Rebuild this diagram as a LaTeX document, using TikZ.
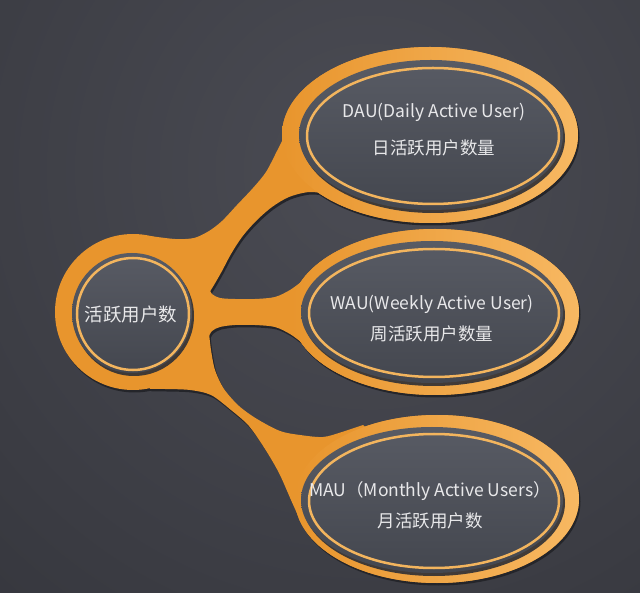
\documentclass[tikz,border=0pt]{standalone}
\usepackage{fontspec}
\setmainfont{Noto Sans CJK SC}
\usetikzlibrary{shapes.geometric, shadows}

\definecolor{bginner}{HTML}{4B4C54}
\definecolor{bgouter}{HTML}{2B2C32}
\definecolor{orangemain}{HTML}{E8952D}
\definecolor{orangelight}{HTML}{F7B862}
\definecolor{ringorange}{HTML}{F3B55E}
\definecolor{disktop}{HTML}{585B64}
\definecolor{diskbottom}{HTML}{44474F}
\definecolor{diskshadow}{HTML}{2E2F35}
\definecolor{blobshadow}{HTML}{24252A}
\definecolor{textgray}{HTML}{E8E8EA}

\tikzstyle{disk} = [ellipse, inner sep=0pt, top color=disktop, bottom color=diskbottom, drop shadow={shadow xshift=2pt, shadow yshift=-3pt, fill=diskshadow, opacity=0.9}]
\tikzstyle{hubdisk} = [circle, inner sep=0pt, minimum size=120, top color=disktop, bottom color=diskbottom, drop shadow={shadow xshift=2pt, shadow yshift=-3pt, fill=diskshadow, opacity=0.9}]
\tikzstyle{rim} = [left color=orangemain, right color=orangelight]
\tikzstyle{ring} = [draw=ringorange, line width=2.5]
\tikzstyle{lbl} = [text=textgray, align=center, font=\fontsize{17.5}{31}\selectfont]

\begin{document}
\begin{tikzpicture}[x=1pt, y=-1pt]
  \useasboundingbox (0,0) rectangle (640,593);
  \begin{scope}
    \clip (0,0) rectangle (640,593);
    \shade[inner color=bginner, outer color=bgouter] (370,170) circle [radius=900];
  \end{scope}

  \coordinate (hubc) at (133,312);
  \coordinate (dauc) at (430,135);
  \coordinate (wauc) at (435,312);
  \coordinate (mauc) at (437,499);

  % orange body: once as shadow, once in colour
  \foreach \dx/\dy/\col in {1.5/2.5/blobshadow, 0/0/orangemain} {
    \begin{scope}[transform canvas={shift={(\dx,\dy)}}]
      \fill[\col] (hubc) circle [radius=78];
      \fill[\col] (dauc) ellipse [x radius=148, y radius=88];
      \fill[\col] (wauc) ellipse [x radius=144, y radius=83];
      \fill[\col] (mauc) ellipse [x radius=142, y radius=84];
      \fill[\col] (hubc) -- plot[smooth] coordinates {(150,236) (175,239) (194,238) (209,231) (222,221) (237,205) (253,188) (266,172) (277,151) (286,133)}
        -- (dauc) -- plot[smooth] coordinates {(335,195) (310,192) (289,197) (272,207) (256,221) (242,237) (231,254) (222,271) (214,285) (209,293)} -- cycle;
      \fill[\col] (hubc) -- plot[smooth] coordinates {(208,286) (212,294) (220,298) (235,299) (255,299) (275,297) (290,290) (301,282)}
        -- (wauc) -- plot[smooth] coordinates {(301,342) (290,334) (275,327) (255,325) (235,325) (220,327) (212,331) (208,338)} -- cycle;
      \fill[\col] (hubc) -- plot[smooth] coordinates {(209,333) (211,350) (215,370) (224,389) (239,406) (257,419) (280,431) (300,435) (323,437) (342,432) (363,425)}
        -- (mauc) -- plot[smooth] coordinates {(300,520) (291,500) (279,473) (265,449) (249,426) (231,410) (211,395) (190,390) (165,389) (150,389)} -- cycle;
    \end{scope}
  }

  % lighter rims
  \shade[rim] (dauc) ellipse [x radius=148, y radius=88];
  \shade[rim] (wauc) ellipse [x radius=144, y radius=83];
  \shade[rim] (mauc) ellipse [x radius=142, y radius=84];

  \node (hub) [hubdisk] at (132,313) {};
  \node (dau) [disk, minimum width=264, minimum height=150] at (431,135) {};
  \node (wau) [disk, minimum width=262, minimum height=142] at (432,312) {};
  \node (mau) [disk, minimum width=262, minimum height=146] at (432,500) {};

  \draw[ring] ([shift={(1,1)}]hub.center) circle [radius=56];
  \draw[ring] ([shift={(2,1)}]dau.center) ellipse [x radius=126, y radius=68];
  \draw[ring] ([shift={(2,1)}]wau.center) ellipse [x radius=125, y radius=64];
  \draw[ring] ([shift={(2,1)}]mau.center) ellipse [x radius=125, y radius=67];

  \node (hublbl) [lbl, font=\fontsize{18.5}{22}\selectfont] at (131,314) {活跃用户数};
  \node (daulbl) [lbl] at (434,130) {DAU(Daily Active User)\\[6pt]日活跃用户数量};
  \node (waulbl) [lbl] at (432,319) {WAU(Weekly Active User)\\周活跃用户数量};
  \node (maulbl) [lbl] at (430,505.5) {MAU（Monthly Active Users）\\月活跃用户数};
\end{tikzpicture}
\end{document}
